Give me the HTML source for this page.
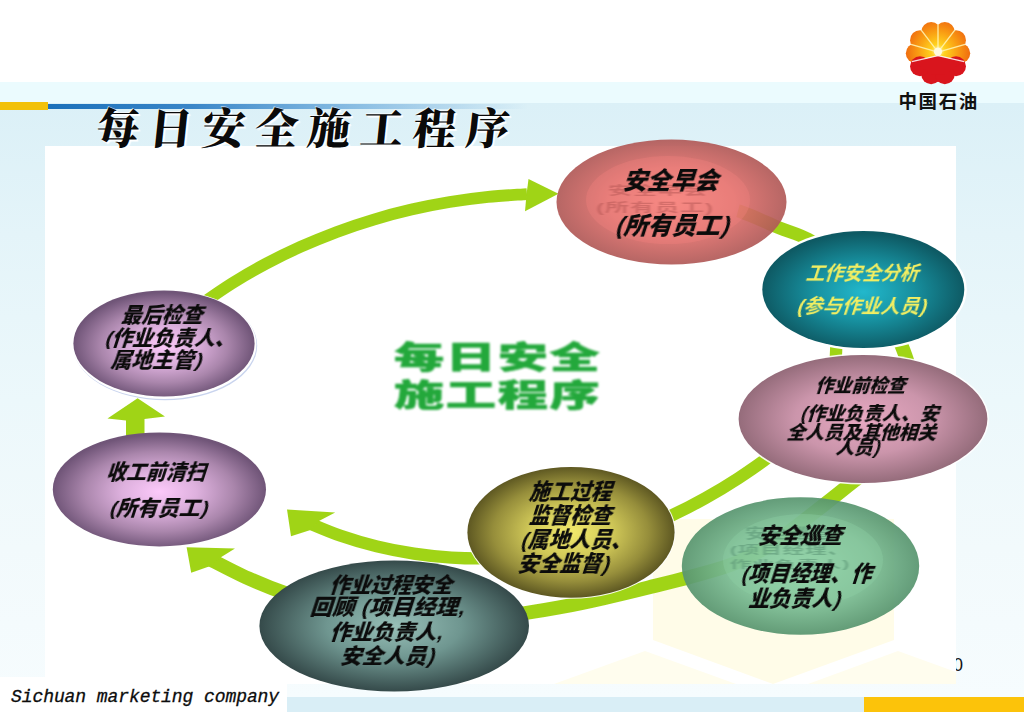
<!DOCTYPE html>
<html lang="zh-CN">
<head>
<meta charset="utf-8">
<title>每日安全施工程序</title>
<style>
html,body{margin:0;padding:0;}
body{width:1024px;height:712px;overflow:hidden;background:#fff;position:relative;
  font-family:"Liberation Sans","Noto Sans CJK SC",sans-serif;}
.abs{position:absolute;}
#band1{left:0;top:82px;width:1024px;height:22px;background:#ebfbfe;}
#band2{left:0;top:103px;width:1024px;height:594px;background:linear-gradient(to bottom,#dbf0f7 0%,#e4f4f9 22%,#ecf8fb 50%,#f2fafc 75%,#f6fcfe 100%);}
#barO{left:0;top:102px;width:48px;height:8px;background:#f2c10a;}
#barB{left:48px;top:104px;width:480px;height:5px;background:linear-gradient(to right,#1b70ba 0%,#3a86c8 30%,rgba(90,160,215,.7) 60%,rgba(160,205,235,0) 100%);}
#panel{left:45px;top:146px;width:911px;height:538px;background:#fff;}
#footbox{left:0;top:677px;width:287px;height:35px;background:#fff;}
#footstrip{left:287px;top:697px;width:577px;height:15px;background:#d9eef6;}
#footO{left:864px;top:697px;width:160px;height:15px;background:#fcc30a;}
#foottxt{left:11px;top:684px;font-family:"Liberation Mono",monospace;font-style:italic;font-size:18px;line-height:26px;color:#0c0c0c;white-space:nowrap;letter-spacing:-.08px;-webkit-text-stroke:.3px #0c0c0c;}
#title{left:93.5px;top:98px;font-family:"Noto Serif CJK SC","Liberation Serif",serif;font-weight:900;font-size:43px;line-height:56px;letter-spacing:9.8px;color:#0a0a0a;white-space:nowrap;
  text-shadow:1px 1px 0 #fff,2px 2px 1px #fff,-1px -1px 0 rgba(255,255,255,.6);transform:skewX(-6deg);transform-origin:left bottom;}
#logotxt{left:898.5px;top:89.5px;font-weight:700;font-size:18.5px;line-height:24px;letter-spacing:1.6px;color:#111;white-space:nowrap;}
#pgnum{left:955.8px;top:655px;font-family:"Liberation Sans",sans-serif;font-size:17.5px;line-height:20px;color:#111;width:8px;height:20px;overflow:hidden;text-indent:-2.6px;}
.t{position:absolute;white-space:nowrap;font-weight:900;color:#0b0b0b;text-align:center;filter:blur(.25px);transform:translateX(-50%) skewX(-18deg) scaleX(.97);}

.g{position:absolute;white-space:nowrap;font-weight:700;filter:blur(.9px);letter-spacing:1px;}
.pl{margin:0 .02em 0 0}.pr{margin:0 0 0 .02em}
#center{left:393.5px;top:339px;width:206px;color:#23a83b;font-weight:900;font-size:31px;line-height:37.5px;filter:blur(.9px);}
#center div{white-space:nowrap;transform:scaleX(1.62);transform-origin:left center;letter-spacing:1px;-webkit-text-stroke:.5px #23a83b;}
</style>
</head>
<body>
<div class="abs" id="band1"></div>
<div class="abs" id="band2"></div>
<div class="abs" id="barB"></div>
<div class="abs" id="barO"></div>
<div class="abs" id="panel"></div>
<div class="abs" id="footbox"></div>
<div class="abs" id="footstrip"></div>
<div class="abs" id="footO"></div>

<svg class="abs" id="art" style="left:0;top:0" width="1024" height="712" viewBox="0 0 1024 712">
<defs>
<radialGradient id="gRed" cx="50%" cy="50%" r="50%"><stop offset="0" stop-color="#f7817a"/><stop offset=".55" stop-color="#e06f6b"/><stop offset="1" stop-color="#b05957"/></radialGradient>
<radialGradient id="gTeal" cx="50%" cy="52%" r="50%"><stop offset="0" stop-color="#22b8cc"/><stop offset=".5" stop-color="#17909f"/><stop offset="1" stop-color="#0e5a64"/></radialGradient>
<radialGradient id="gPink" cx="50%" cy="50%" r="50%"><stop offset="0" stop-color="#e8a9c2"/><stop offset=".55" stop-color="#cb95ab"/><stop offset="1" stop-color="#956c7b"/></radialGradient>
<radialGradient id="gGreen" cx="50%" cy="50%" r="50%"><stop offset="0" stop-color="#90d3a8"/><stop offset=".6" stop-color="#7abc93"/><stop offset="1" stop-color="#58956f"/></radialGradient>
<radialGradient id="gOlive" cx="50%" cy="50%" r="50%"><stop offset="0" stop-color="#f2ea6c"/><stop offset=".4" stop-color="#d0c858"/><stop offset=".75" stop-color="#968e3b"/><stop offset="1" stop-color="#5e5822"/></radialGradient>
<radialGradient id="gDark" cx="50%" cy="50%" r="50%"><stop offset="0" stop-color="#98c0b8"/><stop offset=".5" stop-color="#6f9690"/><stop offset="1" stop-color="#354a4a"/></radialGradient>
<radialGradient id="gPur" cx="50%" cy="52%" r="50%"><stop offset="0" stop-color="#fcc9fa"/><stop offset=".35" stop-color="#deb1de"/><stop offset=".7" stop-color="#aa86ac"/><stop offset="1" stop-color="#705578"/></radialGradient>
<radialGradient id="gSun" gradientUnits="userSpaceOnUse" cx="0" cy="-2" r="33"><stop offset="0" stop-color="#fff6c0"/><stop offset=".2" stop-color="#ffd21e"/><stop offset=".6" stop-color="#f99a12"/><stop offset="1" stop-color="#ee6510"/></radialGradient>
<filter id="soft" x="-5%" y="-5%" width="110%" height="110%"><feGaussianBlur stdDeviation=".75"/></filter>
</defs>
<!-- watermark -->
<polygon fill="#fffce8" points="653,519 894,519 894,640 773,684 653,640"/>
<polygon fill="#fffdee" points="554,684 645,651 736,684"/>
<polygon fill="#fffdee" points="808,684 898,651 956,672 956,684"/>
<!-- arcs -->
<g fill="none" stroke="#a0d418" stroke-linecap="butt" filter="url(#soft)">
<path stroke-width="11.8" d="M200.0,305.0 C205.3,301.3 221.2,290.1 232.2,283.2 C243.2,276.4 254.5,269.9 265.9,263.8 C277.4,257.7 289.1,252.0 300.9,246.7 C312.7,241.4 324.7,236.5 336.9,231.9 C349.1,227.4 361.4,223.3 373.8,219.6 C386.2,215.8 398.8,212.5 411.4,209.6 C424.1,206.6 436.8,204.1 449.6,202.0 C462.4,199.9 475.3,198.1 488.2,196.8 C501.1,195.5 520.5,194.6 527.0,194.1"/>
<path stroke-width="13" d="M738,210.8 C739.5,211.2 740.5,211.6 741.5,212.0 C754.7,216.6 767.9,223.3 779.0,227.8 C790.1,232.3 797.8,233.5 808.0,239.2 C818.2,244.9 834.7,258.2 840.0,262.0"/>
<path stroke-width="12.3" d="M836.6,329.7 C836.2,336.2 837.0,356.5 834.4,368.5 C831.7,380.6 826.7,391.6 820.7,402.0 C814.6,412.4 806.7,421.9 798.2,431.0 C789.8,440.0 779.8,448.2 769.8,456.1 C759.8,464.0 748.9,471.3 738.2,478.3 C727.5,485.3 716.5,491.9 705.4,498.1 C694.4,504.3 683.2,510.1 671.8,515.4 C660.4,520.7 648.9,525.6 637.2,529.9 C625.5,534.3 613.5,538.2 601.4,541.6 C589.4,545.0 577.1,547.9 564.7,550.3 C552.3,552.6 539.8,554.5 527.2,555.9 C514.7,557.2 502.0,558.0 489.4,558.3 C476.8,558.6 464.1,558.4 451.5,557.6 C438.9,556.8 426.3,555.5 413.9,553.6 C401.4,551.8 389.0,549.4 376.8,546.4 C364.6,543.4 352.5,539.9 340.7,535.8 C328.8,531.7 311.6,524.1 305.8,521.8"/>
<path stroke-width="14" d="M895.3,330.2 C897.8,337.4 908.5,358.6 910.2,373.3 C911.9,388.1 910.2,404.8 905.6,418.6 C901.0,432.5 892.4,445.2 882.8,456.4 C873.1,467.6 859.8,476.1 847.8,485.9 C835.9,495.6 823.4,505.4 811.2,514.8 C799.0,524.2 787.2,534.3 774.6,542.3 C761.9,550.4 748.9,557.4 735.2,563.1 C721.5,568.7 706.9,572.2 692.4,576.3 C678.0,580.4 663.1,583.9 648.4,587.5 C633.7,591.2 618.8,594.8 604.0,598.1 C589.1,601.5 574.2,604.7 559.2,607.4 C544.3,610.1 529.3,612.7 514.3,614.6 C499.3,616.5 484.3,618.0 469.2,618.9 C454.2,619.7 439.2,620.0 424.2,619.5 C409.1,619.0 394.1,617.8 379.1,615.9 C364.2,613.9 349.2,611.1 334.5,607.6 C319.8,604.1 305.1,599.9 290.8,595.0 C276.4,590.1 262.2,584.6 248.4,578.4 C234.6,572.3 214.7,561.6 207.9,558.2"/>
</g>
<!-- arrow heads -->
<g fill="#a0d418" filter="url(#soft)">
<polygon points="558.5,193.7 528.5,179 526.5,194.4 525,211.2"/>
<polygon points="287,509.6 335.2,512.6 318,521.5 310.5,530 291,536.3"/>
<polygon points="186.6,547.3 235,548.6 220.5,557.5 209,566.5 191.2,572.7"/>
<polygon points="137.6,398.2 165,416.5 144.5,419 144.5,436 126,436 126,420.5 107.5,418.5"/>
</g>
<!-- ellipses -->
<ellipse cx="394.2" cy="626" rx="134.8" ry="65.6" fill="url(#gDark)"/>
<ellipse cx="571" cy="532.3" rx="104.6" ry="66.4" fill="#fff" opacity=".9"/>
<ellipse cx="571" cy="532.3" rx="103.6" ry="65.4" fill="url(#gOlive)"/>
<ellipse cx="800.5" cy="566" rx="118.7" ry="68.7" fill="url(#gGreen)" opacity=".93"/>
<ellipse cx="803" cy="560" rx="80" ry="46" fill="#8fd0a6" opacity=".35"/>
<ellipse cx="863" cy="419" rx="126" ry="65.6" fill="#fff" opacity=".9"/>
<ellipse cx="863" cy="419" rx="124.4" ry="64" fill="url(#gPink)"/>
<ellipse cx="863.3" cy="289.5" rx="103.5" ry="61" fill="#fff"/>
<ellipse cx="863.3" cy="289.5" rx="101" ry="58.5" fill="url(#gTeal)"/>
<ellipse cx="671.5" cy="202" rx="115" ry="62.5" fill="url(#gRed)" opacity=".92"/>
<ellipse cx="668" cy="200" rx="82" ry="44" fill="#f88680" opacity=".3"/>
<ellipse cx="165.2" cy="345.6" rx="92" ry="54.6" fill="#c9d4ee" filter="url(#soft)"/><ellipse cx="164.4" cy="344.4" rx="92" ry="54.6" fill="#fff"/>
<ellipse cx="164" cy="343.4" rx="90.6" ry="53" fill="url(#gPur)"/>
<ellipse cx="159.4" cy="489.4" rx="106.6" ry="57" fill="url(#gPur)"/>
<!-- logo -->
<g id="logo" transform="translate(938,54) scale(1.035)">
<g transform="translate(0,-0.8)">
<g fill="url(#gSun)"><circle cx="-21.5" cy="-0.0" r="9.6"/><circle cx="-17.4" cy="-12.6" r="9.6"/><circle cx="-6.6" cy="-20.4" r="9.6"/><circle cx="6.6" cy="-20.4" r="9.6"/><circle cx="17.4" cy="-12.6" r="9.6"/><circle cx="21.5" cy="-0.0" r="9.6"/><polygon points="-19.4,6.3 -21.5,-0.0 -17.4,-12.6 -6.6,-20.4 6.6,-20.4 17.4,-12.6 21.5,-0.0 19.4,6.3 0.0,3.0"/></g>
<g stroke="#fff3b0" stroke-width="1.3" opacity=".9"><line x1="0" y1="-1" x2="0.0" y2="-27.6"/><line x1="0" y1="-1" x2="-16.2" y2="-22.3"/><line x1="0" y1="-1" x2="16.2" y2="-22.3"/><line x1="0" y1="-1" x2="-26.2" y2="-8.5"/><line x1="0" y1="-1" x2="26.2" y2="-8.5"/></g>
<circle cx="0" cy="-1.5" r="4" fill="#fffbe0"/>
<g fill="#d9151d"><circle cx="-6.6" cy="20.4" r="9.6"/><circle cx="-17.4" cy="12.6" r="9.6"/><circle cx="17.4" cy="12.6" r="9.6"/><circle cx="6.6" cy="20.4" r="9.6"/><polygon points="-25.3,8.2 0.0,2.5 25.3,8.2 17.4,12.6 6.6,20.4 -6.6,20.4 -17.4,12.6"/></g>
<path d="M-25.3,8.2 L0,2.5 L25.3,8.2" stroke="#fff" stroke-width="1.2" fill="none" opacity=".85"/>
</g>
</g>

</svg>

<div class="abs" id="title">每日安全施工程序</div>
<div class="abs" id="logotxt">中国石油</div>
<div class="abs" id="center"><div>每日安全</div><div>施工程序</div></div>
<div class="g" style="left:658.0px;top:178.8px;font-size:24px;line-height:24px;color:#b35553;opacity:0.5;transform:translateX(-50%) scaleY(0.52);">安全早会</div>
<div class="g" style="left:655.0px;top:195.5px;font-size:24px;line-height:24px;color:#b35553;opacity:0.5;transform:translateX(-50%) scaleY(0.5);">(所有员工)</div>
<div class="g" style="left:790.0px;top:523.2px;font-size:21.5px;line-height:21.5px;color:#5c9676;opacity:0.6;transform:translateX(-50%) scaleY(0.62);">安全巡查</div>
<div class="g" style="left:790.0px;top:540.2px;font-size:21.5px;line-height:21.5px;color:#5c9676;opacity:0.6;transform:translateX(-50%) scaleY(0.55);">(项目经理、</div>
<div class="g" style="left:790.0px;top:553.5px;font-size:21.5px;line-height:21.5px;color:#5c9676;opacity:0.6;transform:translateX(-50%) scaleY(0.5);">作业负责人)</div>
<div class="t" id="t0" style="left:672.6px;top:168.8px;font-size:24px;line-height:24px;transform:translateX(-50%) skewX(-18deg) scaleX(0.994);">安全早会</div>
<div class="t" id="t1" style="left:674.4px;top:214.4px;font-size:24px;line-height:24px;transform:translateX(-50%) skewX(-18deg) scaleX(1.005);"><span class="pl">(</span>所有员工<span class="pr">)</span></div>
<div class="t" id="t2" style="left:863.6px;top:264.3px;font-size:19px;line-height:19px;transform:translateX(-50%) skewX(-18deg) scaleX(0.990);color:#f1ee62;font-weight:700;">工作安全分析</div>
<div class="t" id="t3" style="left:863.2px;top:297.1px;font-size:19px;line-height:19px;transform:translateX(-50%) skewX(-18deg) scaleX(1.014);color:#f1ee62;font-weight:700;"><span class="pl">(</span>参与作业人员<span class="pr">)</span></div>
<div class="t" id="t4" style="left:861.6px;top:376.6px;font-size:18.5px;line-height:18.5px;transform:translateX(-50%) skewX(-18deg) scaleX(0.972);">作业前检查</div>
<div class="t" id="t5" style="left:870.8px;top:405.1px;font-size:18.5px;line-height:18.5px;transform:translateX(-50%) skewX(-18deg) scaleX(1.019);"><span class="pl">(</span>作业负责人、安</div>
<div class="t" id="t6" style="left:863.3px;top:424.2px;font-size:18.5px;line-height:18.5px;transform:translateX(-50%) skewX(-18deg) scaleX(1.012);">全人员及其他相关</div>
<div class="t" id="t7" style="left:859.2px;top:439.3px;font-size:18.5px;line-height:18.5px;transform:translateX(-50%) skewX(-18deg) scaleX(1.004);">人员<span class="pr">)</span></div>
<div class="t" id="t8" style="left:801.7px;top:525.9px;font-size:21.5px;line-height:21.5px;transform:translateX(-50%) skewX(-18deg) scaleX(0.978);">安全巡查</div>
<div class="t" id="t9" style="left:808.0px;top:563.9px;font-size:21.5px;line-height:21.5px;transform:translateX(-50%) skewX(-18deg) scaleX(0.957);"><span class="pl">(</span>项目经理、作</div>
<div class="t" id="t10" style="left:796.0px;top:588.8px;font-size:21.5px;line-height:21.5px;transform:translateX(-50%) skewX(-18deg) scaleX(0.977);">业负责人<span class="pr">)</span></div>
<div class="t" id="t11" style="left:571.9px;top:482.2px;font-size:21.5px;line-height:21.5px;transform:translateX(-50%) skewX(-18deg) scaleX(0.957);">施工过程</div>
<div class="t" id="t12" style="left:571.9px;top:506.1px;font-size:21.5px;line-height:21.5px;transform:translateX(-50%) skewX(-18deg) scaleX(0.958);">监督检查</div>
<div class="t" id="t13" style="left:578.0px;top:529.9px;font-size:21.5px;line-height:21.5px;transform:translateX(-50%) skewX(-18deg) scaleX(0.970);"><span class="pl">(</span>属地人员、</div>
<div class="t" id="t14" style="left:565.4px;top:553.8px;font-size:21.5px;line-height:21.5px;transform:translateX(-50%) skewX(-18deg) scaleX(0.972);">安全监督<span class="pr">)</span></div>
<div class="t" id="t15" style="left:393.2px;top:575.4px;font-size:20.5px;line-height:20.5px;transform:translateX(-50%) skewX(-18deg) scaleX(0.998);">作业过程安全</div>
<div class="t" id="t16" style="left:388.6px;top:597.4px;font-size:20.5px;line-height:20.5px;transform:translateX(-50%) skewX(-18deg) scaleX(1.087);">回顾 <span class="pl">(</span>项目经理,</div>
<div class="t" id="t17" style="left:388.2px;top:622.4px;font-size:20.5px;line-height:20.5px;transform:translateX(-50%) skewX(-18deg) scaleX(1.036);">作业负责人,</div>
<div class="t" id="t18" style="left:388.9px;top:646.1px;font-size:20.5px;line-height:20.5px;transform:translateX(-50%) skewX(-18deg) scaleX(1.049);">安全人员<span class="pr">)</span></div>
<div class="t" id="t19" style="left:164.2px;top:305.2px;font-size:20px;line-height:20px;transform:translateX(-50%) skewX(-18deg) scaleX(1.019);">最后检查</div>
<div class="t" id="t20" style="left:171.6px;top:327.7px;font-size:20px;line-height:20px;transform:translateX(-50%) skewX(-18deg) scaleX(1.030);"><span class="pl">(</span>作业负责人、</div>
<div class="t" id="t21" style="left:157.9px;top:349.6px;font-size:20px;line-height:20px;transform:translateX(-50%) skewX(-18deg) scaleX(1.043);">属地主管<span class="pr">)</span></div>
<div class="t" id="t22" style="left:158.0px;top:461.7px;font-size:20px;line-height:20px;transform:translateX(-50%) skewX(-18deg) scaleX(0.994);">收工前清扫</div>
<div class="t" id="t23" style="left:159.6px;top:498.1px;font-size:20px;line-height:20px;transform:translateX(-50%) skewX(-18deg) scaleX(1.042);"><span class="pl">(</span>所有员工<span class="pr">)</span></div>
<div class="abs" id="pgnum">0</div>
<div class="abs" id="foottxt">Sichuan marketing company</div>
</body>
</html>
